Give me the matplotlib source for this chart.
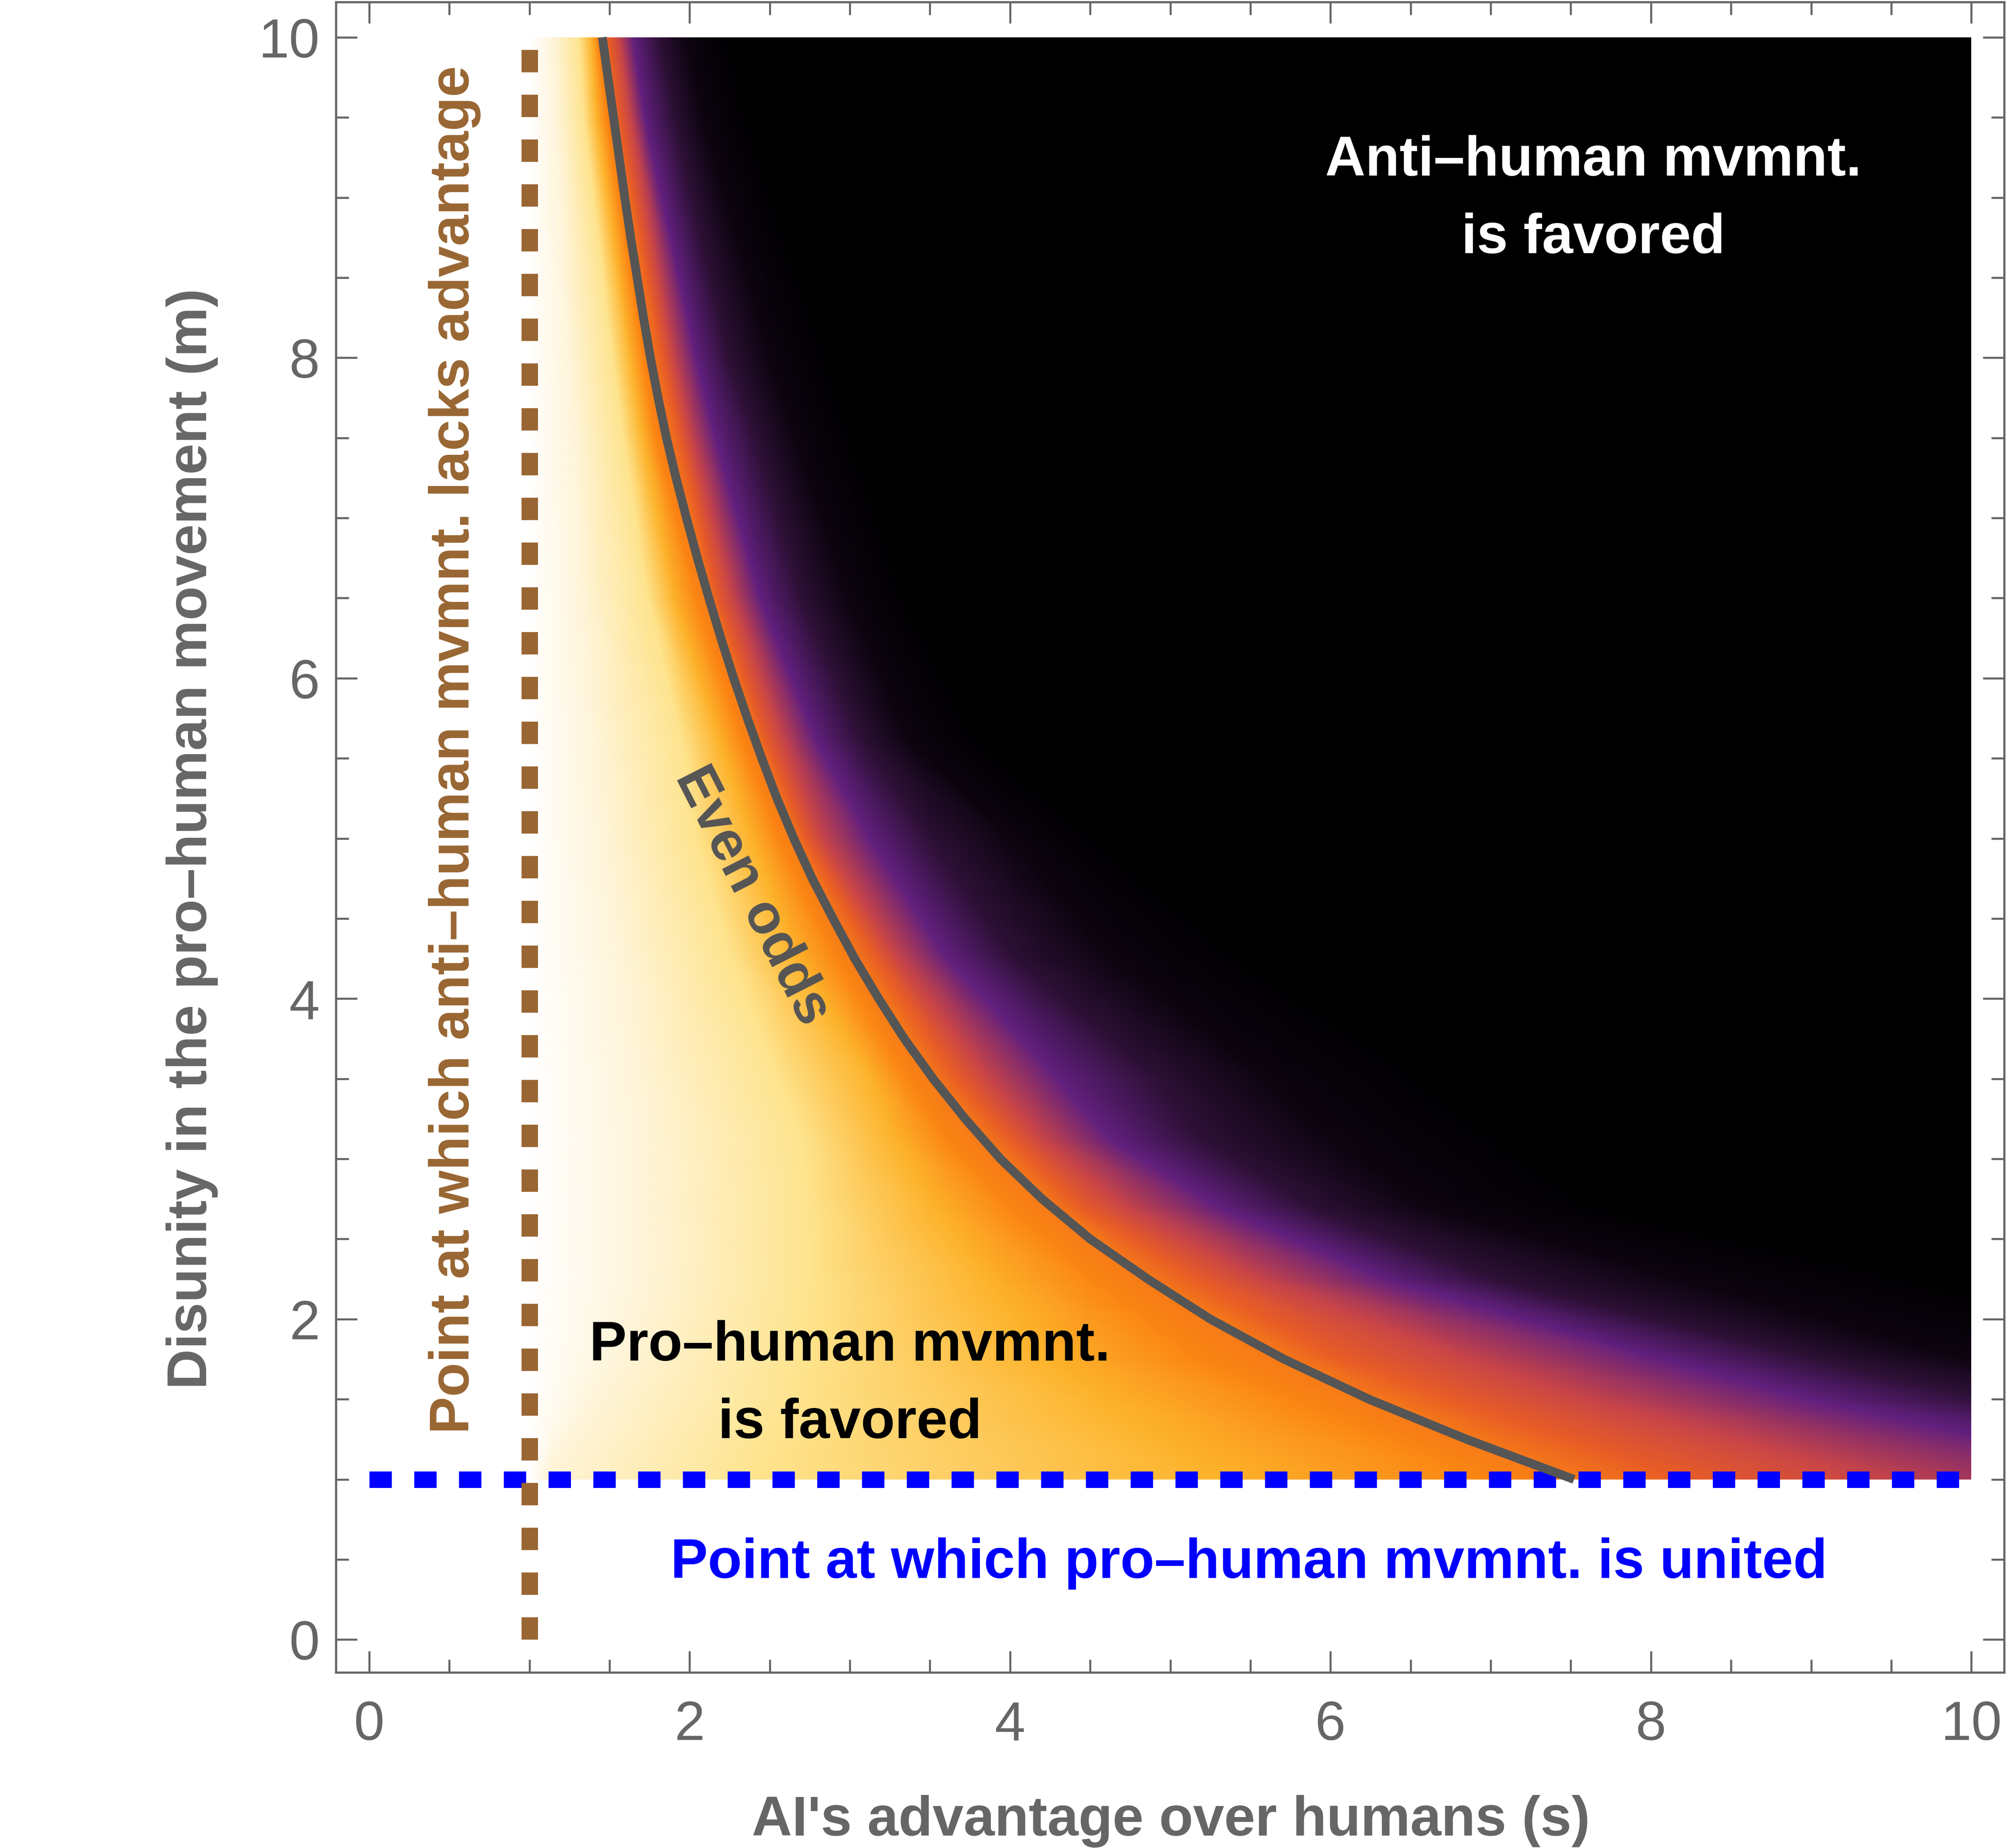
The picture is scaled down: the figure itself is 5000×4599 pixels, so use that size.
import numpy as np
import matplotlib
matplotlib.use('Agg')
import matplotlib.pyplot as plt
from matplotlib.colors import LinearSegmentedColormap
from matplotlib.patches import Rectangle

# shading levels (1 = white ... 0 = black); column order of the mesh below
levels = [1.0, 0.93, 0.84, 0.72, 0.62, 0.60, 0.55, 0.45, 0.32, 0.20, 0.10, 0.0]

m_rows = [1.0, 1.11, 1.5, 1.77, 2.25, 2.7, 3.125, 3.5, 4.28, 5.0, 5.62, 6.5, 7.54, 8.0, 9.5, 10.0]

# s position of each colour band along each row
s_white = [1.0] * len(m_rows)
s_cream = [1.10, 1.15, 1.40, 1.55, 1.70, 1.70, 1.70, 1.65, 1.55, 1.45, 1.40, 1.32, 1.28, 1.25, 1.17, 1.15]
s_pale = [2.40, 2.45, 2.65, 2.70, 2.75, 2.74, 2.70, 2.55, 2.25, 2.04, 1.95, 1.74, 1.58, 1.52, 1.34, 1.31]
s_amber = [5.30, 5.14, 4.56, 4.20, 3.85, 3.52, 3.28, 3.13, 2.65, 2.38, 2.18, 1.90, 1.70, 1.63, 1.42, 1.385]
s_orange = [7.00, 6.74, 5.77, 5.15, 4.52, 4.00, 3.60, 3.36, 2.90, 2.56, 2.325, 2.04, 1.78, 1.71, 1.48, 1.425]
s_half = [7.52, 7.22, 6.24, 5.67, 4.86, 4.26, 3.83, 3.52, 3.01, 2.65, 2.40, 2.12, 1.845, 1.755, 1.525, 1.455]
s_redorange = [8.20, 7.89, 6.74, 6.02, 5.16, 4.44, 4.00, 3.67, 3.15, 2.72, 2.47, 2.17, 1.93, 1.83, 1.56, 1.495]
s_red = [9.40, 9.04, 7.60, 6.82, 5.56, 4.72, 4.20, 3.87, 3.28, 2.83, 2.58, 2.27, 2.00, 1.90, 1.63, 1.56]
s_purple = [11.2, 10.8, 8.98, 7.99, 6.34, 5.30, 4.63, 4.30, 3.59, 3.125, 2.785, 2.44, 2.15, 2.04, 1.72, 1.645]
s_plum = [13.0, 12.5, 10.1, 8.95, 7.03, 5.88, 5.20, 4.91, 4.00, 3.50, 3.07, 2.70, 2.40, 2.24, 1.90, 1.81]
s_nearblack = [15.0, 14.5, 11.5, 9.90, 8.18, 6.60, 6.00, 5.60, 4.60, 4.00, 3.36, 2.99, 2.65, 2.50, 2.08, 1.98]
s_black = [19.0, 18.0, 14.0, 12.0, 9.80, 7.80, 7.20, 6.70, 5.50, 4.60, 3.85, 3.40, 3.05, 2.90, 2.40, 2.28]

# even odds curve
even_m = [10.0, 9.75, 9.5, 9.25, 9.0, 8.75, 8.5, 8.25, 8.0, 7.75, 7.5, 7.25, 7.0, 6.75,
          6.5, 6.25, 6.0, 5.75, 5.5, 5.25, 5.0, 4.75, 4.5, 4.25, 4.0, 3.75, 3.5, 3.25,
          3.0, 2.75, 2.5, 2.25, 2.0, 1.75, 1.5, 1.25, 1.0]
even_s = [1.455, 1.49, 1.525, 1.56, 1.595, 1.632, 1.672, 1.712, 1.755, 1.803, 1.855, 1.915, 1.98, 2.048,
          2.12, 2.195, 2.275, 2.36, 2.45, 2.545, 2.65, 2.765, 2.895, 3.03, 3.18, 3.34, 3.52, 3.72,
          3.94, 4.20, 4.50, 4.86, 5.25, 5.71, 6.24, 6.85, 7.52]

ticks = [0, 2, 4, 6, 8, 10]

sunset = LinearSegmentedColormap.from_list('sunset', [
    (0.00, '#000000'), (0.10, '#0d0410'), (0.20, '#2d1036'), (0.32, '#63207f'),
    (0.45, '#c84548'), (0.55, '#e85d26'), (0.62, '#fb8513'), (0.72, '#fdb22b'),
    (0.84, '#fee38b'), (0.93, '#fff4d8'), (1.00, '#ffffff')])

gray = '#666666'
plt.rcParams['font.family'] = ['Liberation Sans', 'DejaVu Sans']

fig = plt.figure(figsize=(50, 45.99), dpi=100)
ax = fig.add_axes([0.1672, 0.0950, 0.8304, 0.9039])

# black where the anti-human side is certain
ax.add_patch(Rectangle((1, 1), 9, 9, facecolor='black', edgecolor='none', zorder=0.9))

X = np.column_stack([s_white, s_cream, s_pale, s_amber, s_orange, s_half, s_redorange,
                     s_red, s_purple, s_plum, s_nearblack, s_black])
Y = np.repeat(np.array(m_rows)[:, None], len(levels), axis=1)
C = np.tile(levels, (len(m_rows), 1))
mesh = ax.pcolormesh(X, Y, C, shading='gouraud', cmap=sunset, vmin=0, vmax=1, zorder=1)
mesh.set_clip_path(Rectangle((1, 1), 9, 9, transform=ax.transData))

ax.plot([0, 10], [1, 1], color='#0000ff', lw=29.5, linestyle=(0, (1.36, 1.36)),
        solid_capstyle='butt', dash_capstyle='butt', zorder=3)
ax.plot([1, 1], [0, 10], color='#996633', lw=29.5, linestyle=(0, (1.36, 1.36)),
        solid_capstyle='butt', dash_capstyle='butt', zorder=3)
ax.plot(even_s, even_m, color='#555555', lw=15.8, solid_capstyle='butt',
        solid_joinstyle='round', zorder=4)

fs = 100
ax.text(7.64, 9.137, 'Anti–human mvmnt.', color='white', fontsize=fs, fontweight='bold',
        ha='center', va='baseline', zorder=5)
ax.text(7.64, 8.652, 'is favored', color='white', fontsize=fs, fontweight='bold',
        ha='center', va='baseline', zorder=5)
ax.text(3.0, 1.742, 'Pro–human mvmnt.', color='black', fontsize=fs, fontweight='bold',
        ha='center', va='baseline', zorder=5)
ax.text(3.0, 1.257, 'is favored', color='black', fontsize=fs, fontweight='bold',
        ha='center', va='baseline', zorder=5)
ax.text(5.49, 0.384, 'Point at which pro–human mvmnt. is united', color='#0000ff',
        fontsize=fs, fontweight='bold', ha='center', va='baseline', zorder=5)
ax.text(0.622, 1.284, 'Point at which anti–human mvmnt. lacks advantage', color='#996633',
        fontsize=fs, fontweight='bold', rotation=90, rotation_mode='anchor',
        ha='left', va='baseline', zorder=5)
ax.text(2.39, 4.64, 'Even odds', color='#555555', fontsize=fs, fontweight='bold',
        rotation=-63, rotation_mode='anchor', ha='center', va='center', zorder=5)

ax.set_xlim(-0.208, 10.205)
ax.set_ylim(-0.205, 10.22)
ax.set_xticks(ticks)
ax.set_yticks(ticks)
ax.set_xticks(np.arange(0, 10.01, 0.5), minor=True)
ax.set_yticks(np.arange(0, 10.01, 0.5), minor=True)
ax.tick_params(which='both', direction='in', top=True, right=True, color=gray,
               width=3.6, labelsize=98.5, labelcolor=gray)
ax.tick_params(which='major', length=38.5)
ax.tick_params(which='minor', length=23)
ax.tick_params(axis='x', which='major', pad=49)
ax.tick_params(axis='y', which='major', pad=29)
for sp in ax.spines.values():
    sp.set_color(gray)
    sp.set_linewidth(3.9)

fig.text(0.5828, 1 - 4567.5 / 4599, "AI's advantage over humans (s)", color=gray,
         fontsize=fs, fontweight='bold', ha='center', va='baseline')
fig.text(514 / 5000, 0.5462, 'Disunity in the pro–human movement (m)', color=gray,
         fontsize=fs, fontweight='bold', rotation=90, rotation_mode='anchor',
         ha='center', va='baseline')

fig.savefig('out.png', dpi=100)
